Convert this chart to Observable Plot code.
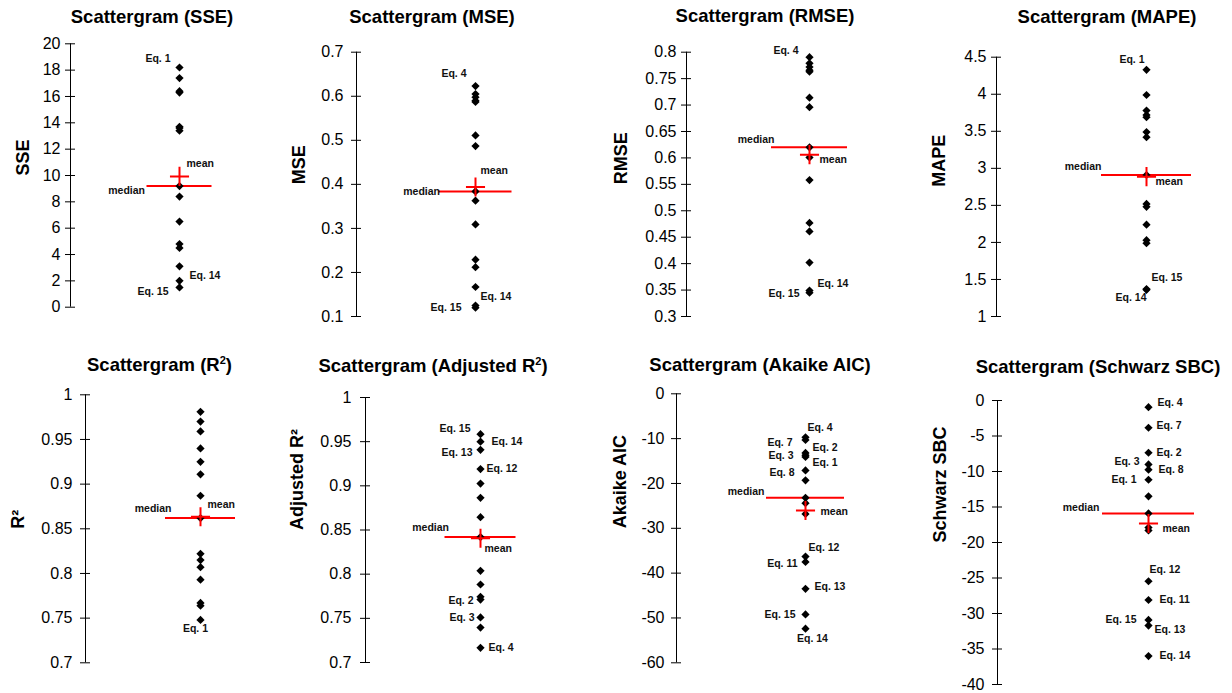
<!DOCTYPE html>
<html><head><meta charset="utf-8">
<script src="https://cdn.jsdelivr.net/npm/d3@7"></script>
<script src="https://cdn.jsdelivr.net/npm/@observablehq/plot@0.6"></script>
<style>
body{margin:0;background:#fff;}
#chart{position:relative;width:1232px;height:693px;overflow:hidden;background:#fff;font-family:"Liberation Sans",Arial,sans-serif;}
.panel{position:absolute;}
.title{position:absolute;transform:translate(-50%,-50%);white-space:nowrap;font-weight:bold;font-size:18.5px;color:#000;line-height:1;}
.title sup{font-size:11px;vertical-align:super;line-height:0;}
</style></head><body><div id="chart"></div><script>
// ---- data ----
const eqNames = ["Eq. 1","Eq. 2","Eq. 3","Eq. 4","Eq. 5","Eq. 6","Eq. 7","Eq. 8","Eq. 9","Eq. 10","Eq. 11","Eq. 12","Eq. 13","Eq. 14","Eq. 15"];
const sseValues   = [18.2, 17.4, 16.4, 16.3, 13.7, 13.6, 13.4, 9.2, 8.4, 6.5, 4.8, 4.5, 3.1, 2.0, 1.5];
const mseValues   = [0.605, 0.598, 0.590, 0.623, 0.587, 0.511, 0.487, 0.384, 0.363, 0.309, 0.229, 0.212, 0.167, 0.125, 0.120];
const rmseValues  = [0.779, 0.772, 0.766, 0.7905, 0.763, 0.714, 0.696, 0.620, 0.601, 0.558, 0.477, 0.461, 0.402, 0.349, 0.345];
const mapeValues  = [4.33, 3.99, 3.78, 3.72, 3.69, 3.49, 3.42, 2.91, 2.52, 2.48, 2.24, 2.03, 1.99, 1.36, 1.37];
const r2Values    = [0.748, 0.767, 0.764, 0.793, 0.807, 0.815, 0.822, 0.862, 0.887, 0.911, 0.925, 0.940, 0.959, 0.970, 0.981];
const adjR2Values = [0.7396, 0.7713, 0.751, 0.7166, 0.7743, 0.7883, 0.8038, 0.842, 0.8645, 0.8864, 0.9026, 0.919, 0.9408, 0.950, 0.9585];
const aicValues   = [-14.1, -13.2, -13.7, -9.7, -19.3, -23.2, -10.3, -17.1, -24.4, -26.8, -37.5, -36.3, -43.5, -52.4, -49.2];
const sbcValues   = [-11.16, -7.36, -9.0, -0.94, -13.5, -15.9, -3.84, -9.75, -17.9, -18.3, -28.1, -25.46, -31.7, -36.0, -30.9];

const sseTicks   = [0, 2, 4, 6, 8, 10, 12, 14, 16, 18, 20];
const mseTicks   = [0.1, 0.2, 0.3, 0.4, 0.5, 0.6, 0.7];
const rmseTicks  = [0.3, 0.35, 0.4, 0.45, 0.5, 0.55, 0.6, 0.65, 0.7, 0.75, 0.8];
const mapeTicks  = [1, 1.5, 2, 2.5, 3, 3.5, 4, 4.5];
const r2Ticks    = [0.7, 0.75, 0.8, 0.85, 0.9, 0.95, 1];
const adjR2Ticks = [0.7, 0.75, 0.8, 0.85, 0.9, 0.95, 1];
const aicTicks   = [-60, -50, -40, -30, -20, -10, 0];
const sbcTicks   = [-40, -35, -30, -25, -20, -15, -10, -5, 0];

// ---- layout (pixel positions / label offsets) ----
const panels = [
  {values: sseValues, ticks: sseTicks, title: "Scattergram (SSE)", ylabel: "SSE",
   left: 0, top: 0, h: 330, axisX: 70, yTop: 43.3, yBot: 306.7, ptX: 179, half: 32.5, titleX: 152, titleY: 17, ylabDx: -47, tickGap: 10,
   medLab: [-2, 5], meanLab: [7, -13], labels: [[1,"end",-9,-9],[14,"start",10,-5],[15,"end",-11,4]]},
  {values: mseValues, ticks: mseTicks, title: "Scattergram (MSE)", ylabel: "MSE",
   left: 308, top: 0, h: 330, axisX: 356, yTop: 51.7, yBot: 316, ptX: 475, half: 36.5, titleX: 432, titleY: 17, ylabDx: -57, tickGap: 13,
   medLab: [1, 0], meanLab: [5, -16], labels: [[4,"end",-9,-12],[14,"start",5,-9],[15,"end",-14,0]]},
  {values: rmseValues, ticks: rmseTicks, title: "Scattergram (RMSE)", ylabel: "RMSE",
   left: 616, top: 0, h: 330, axisX: 686, yTop: 51.7, yBot: 316, ptX: 809, half: 38, titleX: 765, titleY: 16, ylabDx: -65, tickGap: 10,
   medLab: [3, -8], meanLab: [10, 5], labels: [[4,"end",-11,-7],[14,"start",8,-7],[15,"end",-10,1]]},
  {values: mapeValues, ticks: mapeTicks, title: "Scattergram (MAPE)", ylabel: "MAPE",
   left: 924, top: 0, h: 330, axisX: 996, yTop: 56.7, yBot: 316, ptX: 1146, half: 45, titleX: 1107, titleY: 17, ylabDx: -57, tickGap: 10,
   medLab: [0, -8], meanLab: [9, 5], labels: [[1,"end",-2,-10],[15,"start",5,-11],[14,"end",0,8]]},
  {values: r2Values, ticks: r2Ticks, title: "Scattergram (R<sup>2</sup>)", ylabel: "R²",
   left: 0, top: 340, h: 353, axisX: 85, yTop: 394.3, yBot: 662.3, ptX: 200, half: 35, titleX: 159.5, titleY: 365, ylabDx: -67, tickGap: 13,
   medLab: [6, -9], meanLab: [7, -12], labels: [[1,"middle",-5,9]]},
  {values: adjR2Values, ticks: adjR2Ticks, title: "Scattergram (Adjusted R<sup>2</sup>)", ylabel: "Adjusted R²",
   left: 308, top: 340, h: 353, axisX: 365, yTop: 397, yBot: 662, ptX: 480, half: 35.5, titleX: 433, titleY: 366, ylabDx: -68, tickGap: 14,
   medLab: [4, -9.5], meanLab: [4, 10], labels: [[15,"end",-10,-6],[14,"start",11,0],[13,"end",-8,3],[12,"start",6,0],[2,"end",-7,1],[3,"end",-6,0],[4,"start",8,0]]},
  {values: aicValues, ticks: aicTicks, title: "Scattergram (Akaike AIC)", ylabel: "Akaike AIC",
   left: 616, top: 340, h: 353, axisX: 676, yTop: 393.3, yBot: 662.3, ptX: 805, half: 39, titleX: 760, titleY: 365, ylabDx: -56, tickGap: 12,
   medLab: [-2, -6], meanLab: [15, 1], labels: [[4,"start",2,-10],[7,"end",-13,3],[2,"start",7,-5],[3,"end",-12,0],[1,"start",7,6],[8,"end",-11,2],[12,"start",3,-9],[11,"end",-8,2],[13,"start",9,-2],[15,"end",-10,0],[14,"middle",7,10]]},
  {values: sbcValues, ticks: sbcTicks, title: "Scattergram (Schwarz SBC)", ylabel: "Schwarz SBC",
   left: 924, top: 340, h: 353, axisX: 997, yTop: 400, yBot: 684, ptX: 1148, half: 46, titleX: 1098, titleY: 367, ylabDx: -57, tickGap: 13,
   medLab: [-3, -6], meanLab: [14, 5], labels: [[4,"start",9,-5],[7,"start",8,-2],[2,"start",8,0],[3,"end",-9,-3],[8,"start",10,0],[1,"end",-12,0],[12,"start",1,-12],[11,"start",11,0],[15,"end",-12,0],[13,"start",6,4],[14,"start",11,0]]}
];

const FONT = '"Liberation Sans", Arial, sans-serif';
const RED = "#ff0000";
const fmt = d => String(+d.toFixed(2));
const chart = document.getElementById("chart");

for (const p of panels) {
  const W = 308;
  const data = p.values.map((v, i) => ({eq: i + 1, name: eqNames[i], v}));
  const med = d3.median(p.values), avg = d3.mean(p.values);
  const ml = p.axisX - p.left;
  const px = p.ptX - p.axisX;
  const yMin = p.ticks[0], yMax = p.ticks[p.ticks.length - 1];
  const lab = {fontSize: 10.5, fontWeight: "bold", fill: "#111"};
  const svg = Plot.plot({
    width: W, height: p.h,
    marginLeft: ml, marginRight: 0,
    marginTop: p.yTop - p.top, marginBottom: p.top + p.h - p.yBot,
    style: {fontFamily: FONT, background: "transparent", overflow: "visible", color: "#000"},
    x: {domain: [0, W - ml], axis: null},
    y: {domain: [yMin, yMax]},
    marks: [
      Plot.ruleX([0], {y1: yMin, y2: yMax, stroke: "#000"}),
      Plot.ruleY(p.ticks, {x1: 0, x2: 5, stroke: "#000"}),
      Plot.axisY({ticks: p.ticks, tickSize: 5, tickPadding: p.tickGap - 5, tickFormat: fmt, fontSize: 16, label: null}),
      Plot.text([p.ylabel], {frameAnchor: "left", rotate: -90, dx: p.ylabDx, fontSize: 18, fontWeight: "bold"}),
      Plot.ruleY([med], {x1: px - p.half, x2: px + p.half, stroke: RED, strokeWidth: 2}),
      Plot.dot(data, {x: () => px, y: "v", symbol: "diamond2", r: 3.7, fill: "#000", stroke: "none"}),
      Plot.dot([avg], {x: () => px, y: d => d, symbol: "plus", r: 6.2, stroke: RED, strokeWidth: 2}),
      Plot.text([med], {x: () => px - p.half, y: d => d, text: () => "median", textAnchor: "end", dx: p.medLab[0], dy: p.medLab[1], ...lab}),
      Plot.text([avg], {x: () => px, y: d => d, text: () => "mean", textAnchor: "start", dx: p.meanLab[0], dy: p.meanLab[1], ...lab}),
      ...p.labels.map(([eq, anchor, dx, dy]) =>
        Plot.text(data.filter(d => d.eq === eq), {x: () => px, y: "v", text: "name", textAnchor: anchor, dx, dy, ...lab}))
    ]
  });
  const div = document.createElement("div");
  div.className = "panel";
  div.style.left = p.left + "px";
  div.style.top = p.top + "px";
  div.appendChild(svg);
  chart.appendChild(div);
  const t = document.createElement("div");
  t.className = "title";
  t.style.left = p.titleX + "px";
  t.style.top = p.titleY + "px";
  t.innerHTML = p.title;
  chart.appendChild(t);
}
</script></body></html>
